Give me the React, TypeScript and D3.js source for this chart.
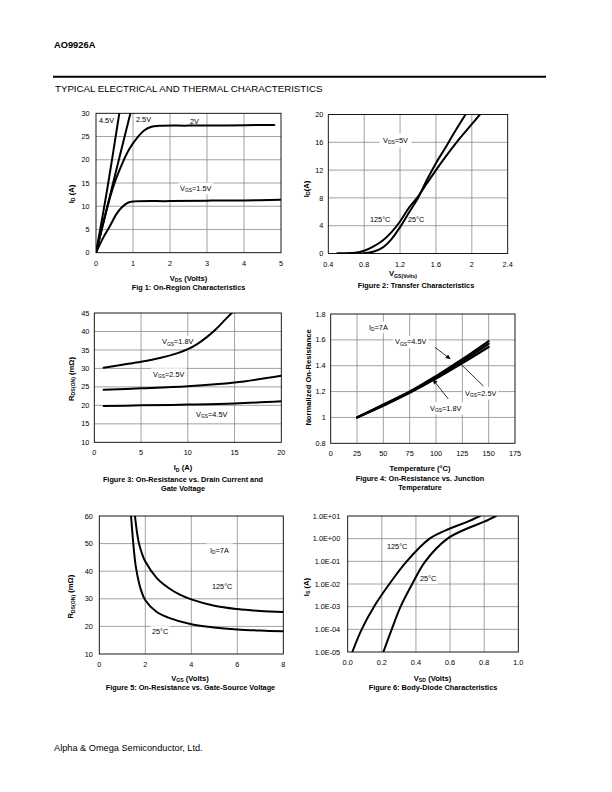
import React, { useLayoutEffect, useRef, useState } from 'react';
import * as d3 from 'd3';

const FONT = '"Liberation Sans", Arial, Helvetica, sans-serif';

// ---------- Figure 1: On-Region Characteristics ----------
const fig1XTicks = [0, 1, 2, 3, 4, 5];
const fig1YTicks = [0, 5, 10, 15, 20, 25, 30];
const fig1Vgs45: [number, number][] = [[0, 0], [0.3, 13.5], [0.63, 30]];
const fig1Vgs25: [number, number][] = [[0, 0], [0.43, 14], [0.93, 30]];
const fig1Vgs2: [number, number][] = [[0, 0], [0.45, 13.8], [0.7, 19], [0.9, 22.3], [1.1, 24.6], [1.3, 26.3], [1.5, 27.1], [1.7, 27.3], [2.5, 27.35], [3.5, 27.4], [4.82, 27.5]];
const fig1Vgs15: [number, number][] = [[0, 0], [0.2, 3.3], [0.38, 5.8], [0.55, 8.3], [0.7, 9.8], [0.85, 10.7], [1.0, 11.0], [2, 11.1], [3, 11.2], [4, 11.25], [5, 11.4]];

// ---------- Figure 2: Transfer Characteristics ----------
const fig2XTicks = [0.4, 0.8, 1.2, 1.6, 2, 2.4];
const fig2YTicks = [0, 4, 8, 12, 16, 20];
const fig2T25: [number, number][] = [[0.5, 0], [0.8, 0.05], [0.9, 0.25], [1.0, 0.8], [1.1, 2.0], [1.2, 3.8], [1.3, 5.9], [1.4, 8.0], [1.5, 10.6], [1.6, 13], [1.7, 15.1], [1.8, 17.3], [1.93, 20]];
const fig2T125: [number, number][] = [[0.5, 0], [0.7, 0.1], [0.8, 0.4], [0.9, 1.0], [1.0, 1.8], [1.1, 3.0], [1.2, 4.6], [1.3, 6.6], [1.4, 8.2], [1.5, 10.1], [1.6, 12.0], [1.7, 13.8], [1.83, 16], [2.0, 18.6], [2.09, 20]];

// ---------- Figure 3: On-Resistance vs Drain Current ----------
const fig3XTicks = [0, 5, 10, 15, 20];
const fig3YTicks = [10, 15, 20, 25, 30, 35, 40, 45];
const fig3Vgs18: [number, number][] = [[1, 30.2], [3, 31], [5, 31.8], [7, 32.8], [9, 34.2], [10, 35.2], [11, 36.6], [12, 38.4], [13, 40.6], [14, 43.2], [14.7, 45]];
const fig3Vgs25: [number, number][] = [[1, 24.2], [5, 24.6], [10, 25.2], [15, 26.2], [20, 28]];
const fig3Vgs45: [number, number][] = [[1, 19.8], [5, 20], [10, 20.2], [15, 20.5], [20, 21.1]];

// ---------- Figure 4: On-Resistance vs Junction Temperature ----------
const fig4XTicks = [0, 25, 50, 75, 100, 125, 150, 175];
const fig4YTicks = [0.8, 1, 1.2, 1.4, 1.6, 1.8];
const fig4Vgs45: [number, number][] = [[25, 1], [50, 1.1], [75, 1.2], [100, 1.32], [125, 1.45], [150, 1.59]];
const fig4Vgs25: [number, number][] = [[25, 1], [50, 1.095], [75, 1.195], [100, 1.31], [125, 1.435], [150, 1.57]];
const fig4Vgs18: [number, number][] = [[25, 1], [50, 1.09], [75, 1.19], [100, 1.3], [125, 1.42], [150, 1.545]];

// ---------- Figure 5: On-Resistance vs Gate-Source Voltage ----------
const fig5XTicks = [0, 2, 4, 6, 8];
const fig5YTicks = [10, 20, 30, 40, 50, 60];
const fig5T25: [number, number][] = [[1.38, 60], [1.5, 48], [1.6, 41], [1.8, 33.5], [2, 29.5], [2.5, 25.2], [3, 23.2], [4, 20.8], [5, 19.6], [6, 18.9], [7, 18.5], [8, 18.2]];
const fig5T125: [number, number][] = [[1.55, 60], [1.7, 51], [1.85, 46.5], [2, 43.5], [2.5, 37.5], [3, 34], [3.5, 31.5], [4, 29.8], [5, 27.5], [6, 26.3], [7, 25.6], [8, 25.2]];

// ---------- Figure 6: Body-Diode Characteristics ----------
const fig6XTicks = [0, 0.2, 0.4, 0.6, 0.8, 1.0];
const fig6YTicks = [1e-5, 1e-4, 1e-3, 1e-2, 1e-1, 1, 10];
const fig6YLabels = ['1.0E-05', '1.0E-04', '1.0E-03', '1.0E-02', '1.0E-01', '1.0E+00', '1.0E+01'];
const fig6T125: [number, number][] = [[0.027, 1e-5], [0.082, 1e-4], [0.154, 1e-3], [0.244, 1e-2], [0.346, 1e-1], [0.48, 1], [0.6, 2.8], [0.7, 5.5], [0.775, 10]];
const fig6T25: [number, number][] = [[0.209, 1e-5], [0.258, 1e-4], [0.31, 1e-3], [0.378, 1e-2], [0.455, 1e-1], [0.585, 1], [0.7, 2.8], [0.8, 5.6], [0.869, 10]];

type Part = { t: string; sub?: boolean };
function parse(s: string): Part[] {
  const parts: Part[] = [];
  const re = /_\{([^}]*)\}/g;
  let last = 0;
  let m: RegExpExecArray | null;
  while ((m = re.exec(s))) {
    if (m.index > last) parts.push({ t: s.slice(last, m.index) });
    parts.push({ t: m[1], sub: true });
    last = re.lastIndex;
  }
  if (last < s.length) parts.push({ t: s.slice(last) });
  return parts;
}

function Txt({ x, y, s, size = 7.3, bold = false, anchor = 'start', bg = false, pad = 1.5, rotate = 0 }: any) {
  const ref = useRef<SVGTextElement>(null);
  const [bb, setBb] = useState<any>(null);
  useLayoutEffect(() => {
    if (bg && ref.current) {
      const b = ref.current.getBBox();
      setBb({ x: b.x, y: b.y, w: b.width, h: b.height });
    }
  }, [bg, s, x, y]);
  const parts = parse(s);
  let subOn = false;
  const sd = size * 0.25;
  const kids = parts.map((p, i) => {
    let dy = 0;
    if (p.sub && !subOn) { dy = sd; subOn = true; }
    else if (!p.sub && subOn) { dy = -sd; subOn = false; }
    return (
      <tspan key={i} dy={dy || undefined} fontSize={p.sub ? size * 0.68 : undefined}>{p.t}</tspan>
    );
  });
  const transform = rotate ? `rotate(${rotate},${x},${y})` : undefined;
  return (
    <g transform={transform}>
      {bg && bb && <rect x={bb.x - pad} y={bb.y - pad * 0.6} width={bb.w + 2 * pad} height={bb.h + pad * 1.2} fill="white" />}
      <text ref={ref} x={x} y={y} fontSize={size} fontWeight={bold ? 'bold' : 'normal'} textAnchor={anchor} fontFamily={FONT} fill="#000">{kids}</text>
    </g>
  );
}

function Plot({ id, xs, ys, xTicks, yTicks, xFmt, yFmt, yGap = 5.5, xOff = 13, series, sw = 2, children }: any) {
  const [x0, x1] = xs.range();
  const [y0, y1] = ys.range(); // y0 bottom, y1 top
  const line = d3.line<[number, number]>().x(d => xs(d[0])).y(d => ys(d[1])).curve(d3.curveCatmullRom.alpha(0.5));
  return (
    <g>
      <defs>
        <clipPath id={id}>
          <rect x={x0} y={y1} width={x1 - x0} height={y0 - y1} />
        </clipPath>
      </defs>
      <rect x={x0} y={y1} width={x1 - x0} height={y0 - y1} fill="white" />
      {xTicks.slice(1, -1).map((t: number, i: number) => (
        <line key={'gx' + i} x1={xs(t)} x2={xs(t)} y1={y0} y2={y1} stroke="#8a8a8a" strokeWidth={0.8} />
      ))}
      {yTicks.slice(1, -1).map((t: number, i: number) => (
        <line key={'gy' + i} x1={x0} x2={x1} y1={ys(t)} y2={ys(t)} stroke="#8a8a8a" strokeWidth={0.8} />
      ))}
      <rect x={x0} y={y1} width={x1 - x0} height={y0 - y1} fill="none" stroke="#000" strokeWidth={0.9} />
      {xTicks.map((t: number, i: number) => (
        <text key={'tx' + i} x={xs(t)} y={y0 + xOff} fontSize={7.3} textAnchor="middle" fontFamily={FONT}>{xFmt(t, i)}</text>
      ))}
      {yTicks.map((t: number, i: number) => (
        <text key={'ty' + i} x={x0 - yGap} y={ys(t) + 2.6} fontSize={7.3} textAnchor="end" fontFamily={FONT}>{yFmt(t, i)}</text>
      ))}
      {children}
      <g clipPath={`url(#${id})`}>
        {series.map((d: [number, number][], i: number) => (
          <path key={'s' + i} d={line(d) || ''} fill="none" stroke="#000" strokeWidth={sw} strokeLinejoin="round" strokeLinecap="round" />
        ))}
      </g>
    </g>
  );
}

function Arrow({ x1, y1, x2, y2, head = true }: any) {
  const ang = Math.atan2(y2 - y1, x2 - x1);
  const L = 5, W = 2.2;
  const bx = x2 - L * Math.cos(ang), by = y2 - L * Math.sin(ang);
  const px = -Math.sin(ang) * W, py = Math.cos(ang) * W;
  return (
    <g>
      <line x1={x1} y1={y1} x2={head ? bx : x2} y2={head ? by : y2} stroke="#000" strokeWidth={0.8} />
      {head && <path d={`M${x2},${y2}L${bx + px},${by + py}L${bx - px},${by - py}Z`} fill="#000" />}
    </g>
  );
}

export default function App() {
  const f1x = d3.scaleLinear().domain([0, 5]).range([96, 281]);
  const f1y = d3.scaleLinear().domain([0, 30]).range([252.7, 113.3]);
  const f2x = d3.scaleLinear().domain([0.4, 2.4]).range([328.3, 507.7]);
  const f2y = d3.scaleLinear().domain([0, 20]).range([253.5, 114.5]);
  const f3x = d3.scaleLinear().domain([0, 20]).range([94.3, 281.3]);
  const f3y = d3.scaleLinear().domain([10, 45]).range([442.3, 313]);
  const f4x = d3.scaleLinear().domain([0, 175]).range([330.7, 515]);
  const f4y = d3.scaleLinear().domain([0.8, 1.8]).range([443.3, 314]);
  const f5x = d3.scaleLinear().domain([0, 8]).range([99.3, 283.3]);
  const f5y = d3.scaleLinear().domain([10, 60]).range([654, 516]);
  const f6x = d3.scaleLinear().domain([0, 1]).range([347.7, 518.3]);
  const f6y = d3.scaleLog().domain([1e-5, 10]).range([652, 516]);

  const plain = (t: number) => String(t);
  const fix1 = (t: number) => t.toFixed(1);

  return (
    <svg width={612} height={792} style={{ position: 'absolute', left: 0, top: 0, background: 'white' }} fontFamily={FONT}>
      <rect x={0} y={0} width={612} height={792} fill="white" />
      {/* Header */}
      <Txt x={54} y={47.5} s="AO9926A" size={9.3} bold />
      <line x1={53} x2={546} y1={76.7} y2={76.7} stroke="#000" strokeWidth={2} />
      <Txt x={55} y={91.5} s="TYPICAL ELECTRICAL AND THERMAL CHARACTERISTICS" size={9.7} />

      {/* Figure 1 */}
      <Plot id="c1" xs={f1x} ys={f1y} xTicks={fig1XTicks} yTicks={fig1YTicks} xFmt={plain} yFmt={plain} yGap={6.5}
        series={[fig1Vgs45, fig1Vgs25, fig1Vgs2, fig1Vgs15]}>
        <Txt x={99} y={122.5} s="4.5V" />
        <Txt x={136} y={122} s="2.5V" />
        <Txt x={190} y={123.5} s="2V" />
        <Txt x={180} y={190.5} s="V_{GS}=1.5V" bg />
      </Plot>
      <Txt x={73.5} y={194} s="I_{D} (A)" size={7.6} bold anchor="middle" rotate={-90} />
      <Txt x={188.5} y={280.5} s="V_{DS} (Volts)" size={7.6} bold anchor="middle" />
      <Txt x={188.5} y={289.5} s="Fig 1: On-Region Characteristics" size={7.3} bold anchor="middle" />

      {/* Figure 2 */}
      <Plot id="c2" xs={f2x} ys={f2y} xTicks={fig2XTicks} yTicks={fig2YTicks} xFmt={plain} yFmt={plain} yGap={5}
        series={[fig2T25, fig2T125]}>
        <Txt x={383} y={142.5} s="V_{DS}=5V" bg pad={3.5} />
        <Txt x={370} y={221.5} s="125°C" bg pad={1} />
        <Txt x={408} y={221.5} s="25°C" bg pad={1} />
      </Plot>
      <Txt x={308.5} y={189} s="I_{D}(A)" size={7.6} bold anchor="middle" rotate={-90} />
      <Txt x={403} y={276} s="V_{GS(Volts)}" size={7.6} bold anchor="middle" />
      <Txt x={416} y={288} s="Figure 2: Transfer Characteristics" size={7.3} bold anchor="middle" />

      {/* Figure 3 */}
      <Plot id="c3" xs={f3x} ys={f3y} xTicks={fig3XTicks} yTicks={fig3YTicks} xFmt={plain} yFmt={plain} yGap={5}
        series={[fig3Vgs18, fig3Vgs25, fig3Vgs45]}>
        <Txt x={162} y={344} s="V_{GS}=1.8V" bg pad={2} />
        <Txt x={153} y={376.5} s="V_{GS}=2.5V" bg pad={2} />
        <Txt x={196} y={416.5} s="V_{GS}=4.5V" bg pad={2} />
      </Plot>
      <Txt x={73.5} y={379} s="R_{DS(ON)} (mΩ)" size={7.6} bold anchor="middle" rotate={-90} />
      <Txt x={183} y={470} s="I_{D} (A)" size={7.6} bold anchor="middle" />
      <Txt x={183} y={481.5} s="Figure 3: On-Resistance vs. Drain Current and" size={7.3} bold anchor="middle" />
      <Txt x={183} y={490.5} s="Gate Voltage" size={7.3} bold anchor="middle" />

      {/* Figure 4 */}
      <Plot id="c4" xs={f4x} ys={f4y} xTicks={fig4XTicks} yTicks={fig4YTicks} xFmt={plain} yFmt={plain} yGap={5}
        series={[fig4Vgs45, fig4Vgs25, fig4Vgs18]} sw={2.2}>
        <Txt x={369} y={329.5} s="I_{D}=7A" bg pad={1.5} />
        <Txt x={395} y={344} s="V_{GS}=4.5V" bg pad={2} />
        <Txt x={465} y={395.5} s="V_{GS}=2.5V" bg pad={2} />
        <Txt x={430} y={410.5} s="V_{GS}=1.8V" bg pad={2} />
        <Arrow x1={435} y1={347.3} x2={450.7} y2={359.3} />
        <Arrow x1={483.3} y1={386} x2={460} y2={363.3} head={false} />
        <Arrow x1={448.3} y1={399} x2={432.7} y2={379.3} />
      </Plot>
      <Txt x={310.5} y={377.5} s="Normalized On-Resistance" size={7.6} bold anchor="middle" rotate={-90} />
      <Txt x={420} y={471} s="Temperature (°C)" size={7.6} bold anchor="middle" />
      <Txt x={420} y={480.5} s="Figure 4: On-Resistance vs. Junction" size={7.3} bold anchor="middle" />
      <Txt x={420} y={489.5} s="Temperature" size={7.3} bold anchor="middle" />

      {/* Figure 5 */}
      <Plot id="c5" xs={f5x} ys={f5y} xTicks={fig5XTicks} yTicks={fig5YTicks} xFmt={plain} yFmt={plain} yGap={6.5}
        series={[fig5T25, fig5T125]}>
        <Txt x={210} y={552.5} s="I_{D}=7A" bg pad={3.5} />
        <Txt x={212} y={588.5} s="125°C" bg pad={1.5} />
        <Txt x={152} y={634} s="25°C" bg pad={1.5} />
      </Plot>
      <Txt x={73.5} y={596.7} s="R_{DS(ON)} (mΩ)" size={7.6} bold anchor="middle" rotate={-90} />
      <Txt x={190} y={680.5} s="V_{GS} (Volts)" size={7.6} bold anchor="middle" />
      <Txt x={190.5} y={690.3} s="Figure 5: On-Resistance vs. Gate-Source Voltage" size={7.3} bold anchor="middle" />

      {/* Figure 6 */}
      <Plot id="c6" xs={f6x} ys={f6y} xTicks={fig6XTicks} yTicks={fig6YTicks} xFmt={fix1} yFmt={(_t: number, i: number) => fig6YLabels[i]} yGap={7.5} xOff={12.5}
        series={[fig6T125, fig6T25]}>
        <Txt x={387} y={549} s="125°C" bg pad={1.5} />
        <Txt x={420} y={581} s="25°C" bg pad={1.5} />
      </Plot>
      <Txt x={308.5} y={587} s="I_{S} (A)" size={7.6} bold anchor="middle" rotate={-90} />
      <Txt x={432.5} y={680.5} s="V_{SD} (Volts)" size={7.6} bold anchor="middle" />
      <Txt x={433} y={689.5} s="Figure 6: Body-Diode Characteristics" size={7.3} bold anchor="middle" />

      {/* Footer */}
      <Txt x={54} y={751} s="Alpha & Omega Semiconductor, Ltd." size={9.2} />
    </svg>
  );
}
